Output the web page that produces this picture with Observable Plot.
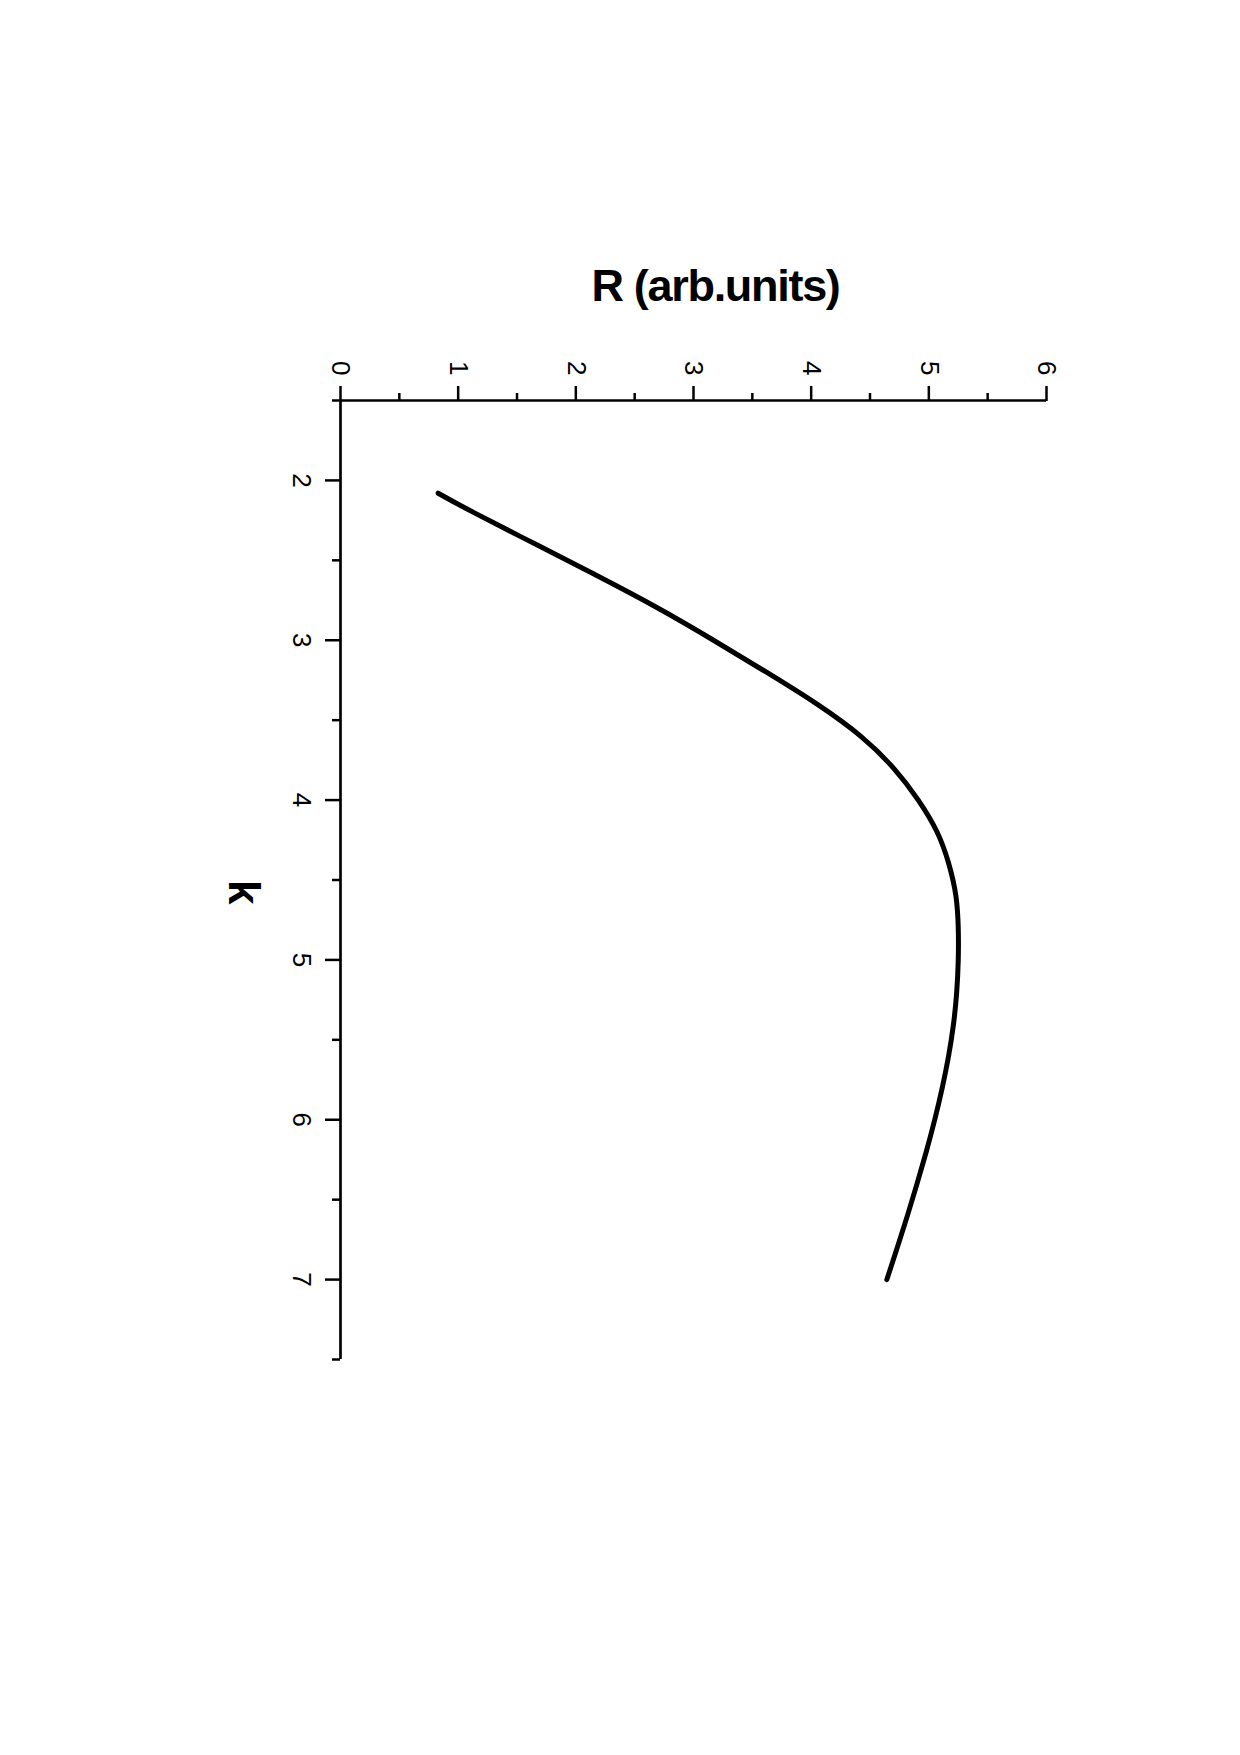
<!DOCTYPE html>
<html><head><meta charset="utf-8">
<script src="https://cdn.jsdelivr.net/npm/d3@7"></script>
<script src="https://cdn.jsdelivr.net/npm/@observablehq/plot@0.6"></script>
<style>
html,body{margin:0;padding:0;background:#fff;}
#chart{position:absolute;left:0;top:0;}
</style></head><body><div id="chart"></div>
<script>
const kValues = [2.08, 2.2, 2.4, 2.6, 2.8, 3.0, 3.2, 3.4, 3.6, 3.8, 4.0, 4.2, 4.4, 4.6, 4.8, 5.0, 5.2, 5.4, 5.6, 5.8, 6.0, 6.2, 6.4, 6.6, 6.8, 7.0];
const rValues = [0.83, 1.13, 1.66, 2.19, 2.70, 3.17, 3.62, 4.05, 4.42, 4.70, 4.91, 5.07, 5.17, 5.23, 5.25, 5.25, 5.237, 5.21, 5.168, 5.114, 5.05, 4.978, 4.90, 4.818, 4.732, 4.643];
const rMajorTicks = [0, 1, 2, 3, 4, 5, 6];
const rMinorTicks = [0.5, 1.5, 2.5, 3.5, 4.5, 5.5];
const kMajorTicks = [2, 3, 4, 5, 6, 7];
const kMinorTicks = [1.5, 2.5, 3.5, 4.5, 5.5, 6.5, 7.5];
const xTitle = "R (arb.units)";
const yTitle = "k";

const data = kValues.map((k, i) => ({k, r: rValues[i]}));

const chart = Plot.plot({
  width: 1240, height: 1755,
  marginLeft: 340, marginRight: 194, marginTop: 400, marginBottom: 396,
  style: {background: "#fff", fontFamily: "'Liberation Sans', Arial, sans-serif", color: "#000"},
  x: {domain: [0, 6], axis: null},
  y: {domain: [1.5, 7.5], reverse: true, axis: null},
  marks: [
    Plot.axisX({anchor: "top", ticks: rMinorTicks, tickSize: 8, tickFormat: () => "", strokeWidth: 2.5, label: null}),
    Plot.axisX({anchor: "top", ticks: rMajorTicks, tickSize: 15, tickPadding: 10, tickRotate: 90, fontSize: 26, strokeWidth: 2.5, label: null, tickFormat: d => String(d)}),
    Plot.axisY({anchor: "left", ticks: kMinorTicks, tickSize: 8, tickFormat: () => "", strokeWidth: 2.5, label: null}),
    Plot.axisY({anchor: "left", ticks: kMajorTicks, tickSize: 15, tickPadding: 14, tickRotate: 90, fontSize: 26, strokeWidth: 2.5, label: null, tickFormat: d => String(d)}),
    Plot.ruleX([0], {strokeWidth: 2.7, stroke: "#000"}),
    Plot.ruleY([1.5], {strokeWidth: 2.7, stroke: "#000"}),
    Plot.line(data, {x: "r", y: "k", curve: "natural", strokeWidth: 5, stroke: "#000"}),
    Plot.text([xTitle], {frameAnchor: "top", dx: 22, dy: -100, lineAnchor: "bottom", fontSize: 45, fontWeight: "bold"}),
    Plot.text([yTitle], {frameAnchor: "left", dx: -97, rotate: 90, fontSize: 44, fontWeight: "bold"})
  ]
});
d3.select(chart).selectAll("text").filter(function() { return this.textContent === xTitle; })
  .attr("letter-spacing", "-1.3");
document.getElementById("chart").appendChild(chart);
</script>
</body></html>
